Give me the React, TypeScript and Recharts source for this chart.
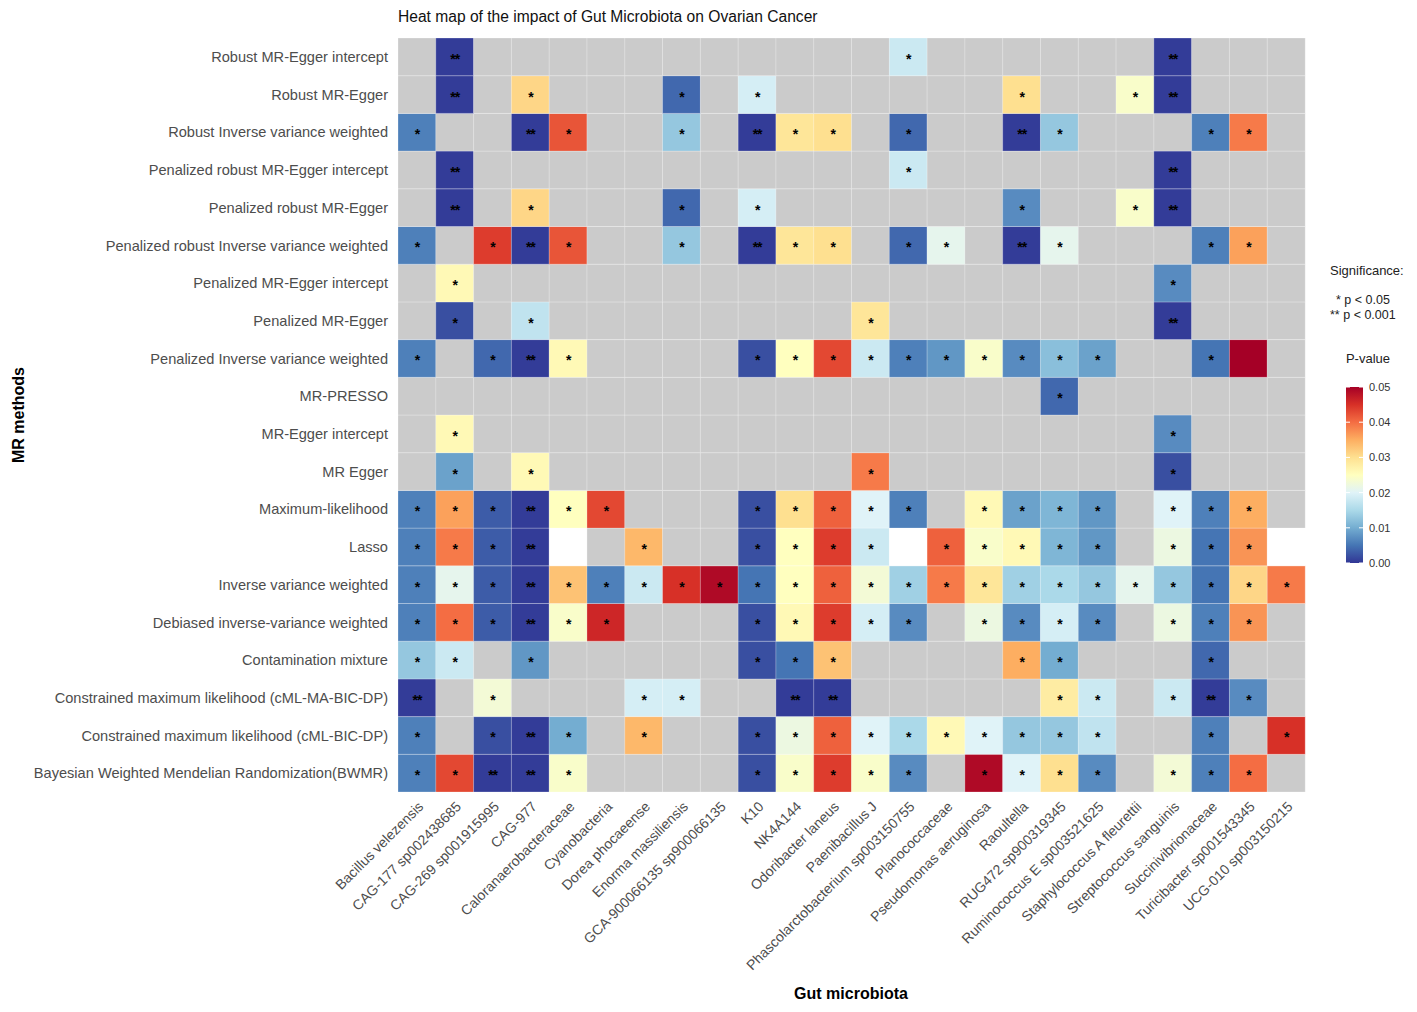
import { BarChart, Bar, XAxis, YAxis, Cell, LabelList } from "recharts"

// columns (x axis)
const microbiota = [
  "Bacillus velezensis",
  "CAG-177 sp002438685",
  "CAG-269 sp001915995",
  "CAG-977",
  "Caloranaerobacteraceae",
  "Cyanobacteria",
  "Dorea phocaeense",
  "Enorma massiliensis",
  "GCA-900066135 sp900066135",
  "K10",
  "NK4A144",
  "Odoribacter laneus",
  "Paenibacillus J",
  "Phascolarctobacterium sp003150755",
  "Planococcaceae",
  "Pseudomonas aeruginosa",
  "Raoultella",
  "RUG472 sp900319345",
  "Ruminococcus E sp003521625",
  "Staphylococcus A fleurettii",
  "Streptococcus sanguinis",
  "Succinivibrionaceae",
  "Turicibacter sp001543345",
  "UCG-010 sp003150215",
]

// rows, top to bottom
const methods = [
  "Robust MR-Egger intercept",
  "Robust MR-Egger",
  "Robust Inverse variance weighted",
  "Penalized robust MR-Egger intercept",
  "Penalized robust MR-Egger",
  "Penalized robust Inverse variance weighted",
  "Penalized MR-Egger intercept",
  "Penalized MR-Egger",
  "Penalized Inverse variance weighted",
  "MR-PRESSO",
  "MR-Egger intercept",
  "MR Egger",
  "Maximum-likelihood",
  "Lasso",
  "Inverse variance weighted",
  "Debiased inverse-variance weighted",
  "Contamination mixture",
  "Constrained maximum likelihood (cML-MA-BIC-DP)",
  "Constrained maximum likelihood (cML-BIC-DP)",
  "Bayesian Weighted Mendelian Randomization(BWMR)",
]

const _ = null // no result (grey tile)
const W = NaN // result without p-value (white tile)

// p-values, one row per method, one entry per microbiota
const pValues: (number | null)[][] = [
  [_, .0005, _, _, _, _, _, _, _, _, _, _, _, .018, _, _, _, _, _, _, .0005, _, _, _],
  [_, .0005, _, .031, _, _, _, .004, _, .019, _, _, _, _, _, _, .030, _, _, .024, .0005, _, _, _],
  [.006, _, _, .0005, .042, _, _, .013, _, .0005, .029, .030, _, .004, _, _, .0005, .013, _, _, _, .006, .039, _],
  [_, .0005, _, _, _, _, _, _, _, _, _, _, _, .018, _, _, _, _, _, _, .0005, _, _, _],
  [_, .0005, _, .031, _, _, _, .004, _, .019, _, _, _, _, _, _, .007, _, _, .024, .0005, _, _, _],
  [.006, _, .044, .0005, .042, _, _, .013, _, .0005, .029, .030, _, .004, .021, _, .0005, .021, _, _, _, .006, .036, _],
  [_, .026, _, _, _, _, _, _, _, _, _, _, _, _, _, _, _, _, _, _, .007, _, _, _],
  [_, .002, _, .017, _, _, _, _, _, _, _, _, .029, _, _, _, _, _, _, _, .0005, _, _, _],
  [.006, _, .004, .0005, .026, _, _, _, _, .002, .025, .043, .018, .006, .008, .024, .007, .012, .009, _, _, .005, .050, _],
  [_, _, _, _, _, _, _, _, _, _, _, _, _, _, _, _, _, .004, _, _, _, _, _, _],
  [_, .026, _, _, _, _, _, _, _, _, _, _, _, _, _, _, _, _, _, _, .007, _, _, _],
  [_, .009, _, .026, _, _, _, _, _, _, _, _, .039, _, _, _, _, _, _, _, .002, _, _, _],
  [.006, .036, .003, .0005, .025, .043, _, _, _, .002, .030, .041, .020, .006, _, .026, .009, .011, .008, _, .020, .006, .035, _],
  [.006, .039, .003, .0005, W, _, .034, _, _, .002, .025, .044, .018, W, .041, .024, .026, .011, .008, _, .022, .005, .037, W],
  [.006, .021, .003, .0005, .033, .006, .018, .045, .049, .005, .025, .041, .023, .014, .039, .029, .014, .015, .013, .021, .013, .005, .031, .039],
  [.006, .040, .003, .0005, .024, .046, _, _, _, .002, .026, .044, .019, .007, _, .022, .007, .019, .007, _, .022, .006, .037, _],
  [.013, .018, _, .008, _, _, _, _, _, .002, .005, .033, _, _, _, _, .035, .010, _, _, _, .004, _, _],
  [.0005, _, .023, _, _, _, .019, .019, _, _, .0005, .0005, _, _, _, _, _, .028, .018, _, .018, .0005, .007, _],
  [.006, _, .002, .0005, .010, _, .034, _, _, .002, .022, .041, .020, .015, .026, .020, .013, .013, .017, _, _, .006, _, .045],
  [.006, .043, .0005, .0005, .024, _, _, _, _, .002, .024, .044, .024, .007, _, .049, .020, .030, .007, _, .023, .006, .040, _],
]

const legendTicks = [0, 0.01, 0.02, 0.03, 0.04, 0.05]
const P_MAX = 0.05

// RdYlBu, reversed (low p = blue)
const palette = [
  "#313695", "#4575b4", "#74add1", "#abd9e9", "#e0f3f8", "#ffffbf",
  "#fee090", "#fdae61", "#f46d43", "#d73027", "#a50026",
]

const FONT = "'Liberation Sans', Arial, Helvetica, sans-serif"

function hex(c: string) {
  return [1, 3, 5].map((i) => parseInt(c.slice(i, i + 2), 16))
}

function pColor(p: number | null) {
  if (p == null) return "#cbcbcb"
  if (Number.isNaN(p)) return "#ffffff"
  const t = Math.min(Math.max(p / P_MAX, 0), 1) * (palette.length - 1)
  const i = Math.min(Math.floor(t), palette.length - 2)
  const f = t - i
  const a = hex(palette[i])
  const b = hex(palette[i + 1])
  const m = a.map((v, k) => Math.round(v + (b[k] - v) * f))
  return `rgb(${m[0]},${m[1]},${m[2]})`
}

const stars = (p: number) => (p < 0.001 ? "**" : p < 0.05 ? "*" : "")

// one record per microbiota: a unit tile per method + its p-value
const rows = microbiota.map((name, c) => {
  const r: Record<string, any> = { name }
  methods.forEach((_m, m) => {
    r[`t${m}`] = 1
    r[`p${m}`] = pValues[m][c]
  })
  return r
})

const renderStar = (props: any) => {
  const { x, y, width, height, value } = props
  if (value == null || Number.isNaN(value)) return null
  return (
    <text
      x={x + width / 2}
      y={y + height / 2 + 7}
      textAnchor="middle"
      fontSize={14}
      fontWeight="bold"
      fontFamily={FONT}
      fill="#000"
      letterSpacing={-1}
    >
      {stars(value)}
    </text>
  )
}

const XTick = ({ x, y, payload }: any) => (
  <text
    x={x}
    y={y}
    transform={`rotate(-45, ${x}, ${y})`}
    textAnchor="end"
    dy="0.75em"
    fontSize={14}
    fontFamily={FONT}
    fill="#4d4d4d"
  >
    {payload.value}
  </text>
)

const yTicks = methods.map((_m, i) => i + 0.5)

export default function App() {
  const stackOrder = methods.map((_m, i) => methods.length - 1 - i) // bottom row first

  return (
    <div style={{ position: "absolute", left: 0, top: 0, width: 1417, height: 1012, background: "#fff", fontFamily: FONT }}>
      <BarChart
        width={1417}
        height={1012}
        data={rows}
        margin={{ top: 38, right: 112, bottom: 0, left: 0 }}
        barCategoryGap={0}
        barGap={0}
      >
        <XAxis
          dataKey="name"
          type="category"
          interval={0}
          height={220}
          axisLine={false}
          tickLine={false}
          tick={<XTick />}
        />
        <YAxis
          type="number"
          domain={[0, methods.length]}
          ticks={yTicks}
          interval={0}
          width={398}
          axisLine={false}
          tickLine={false}
          tickMargin={4}
          tickFormatter={(v: number) => methods[methods.length - 1 - Math.floor(v)]}
          tick={{ fontSize: 14.6, fill: "#4d4d4d", fontFamily: FONT }}
        />
        {stackOrder.map((m) => (
          <Bar key={m} dataKey={`t${m}`} stackId="tiles" isAnimationActive={false}>
            {rows.map((_r, c) => (
              <Cell
                key={c}
                fill={pColor(pValues[m][c])}
                stroke="rgba(255,255,255,0.25)"
                strokeWidth={1}
              />
            ))}
            <LabelList dataKey={`p${m}`} content={renderStar} />
          </Bar>
        ))}
      </BarChart>

      <svg
        width={1417}
        height={1012}
        style={{ position: "absolute", left: 0, top: 0, pointerEvents: "none" }}
        fontFamily={FONT}
      >
        <defs>
          <linearGradient id="pGrad" x1="0" y1="1" x2="0" y2="0">
            {palette.map((c, i) => (
              <stop key={i} offset={`${(i / (palette.length - 1)) * 100}%`} stopColor={c} />
            ))}
          </linearGradient>
        </defs>
        <text x={398} y={22} fontSize={15.6} fill="#111">
          Heat map of the impact of Gut Microbiota on Ovarian Cancer
        </text>
        <text x={851} y={999} fontSize={16} fontWeight="bold" textAnchor="middle" fill="#000">
          Gut microbiota
        </text>
        <text
          x={24}
          y={415}
          fontSize={16}
          fontWeight="bold"
          textAnchor="middle"
          fill="#000"
          transform="rotate(-90, 24, 415)"
        >
          MR methods
        </text>

        <text x={1330} y={275} fontSize={13} fill="#222">Significance:</text>
        <text x={1336} y={304} fontSize={12.5} fill="#222">*   p &lt; 0.05</text>
        <text x={1330} y={319} fontSize={12.5} fill="#222">** p &lt; 0.001</text>
        <text x={1368} y={363} fontSize={13} fill="#222" textAnchor="middle">P-value</text>
        <rect x={1346} y={387} width={17} height={176} fill="url(#pGrad)" />
        {legendTicks.map((t) => {
          const ty = 563 - (t / P_MAX) * 176
          return (
            <g key={t}>
              <line x1={1346} x2={1350} y1={ty} y2={ty} stroke="#fff" strokeWidth={1} />
              <line x1={1359} x2={1363} y1={ty} y2={ty} stroke="#fff" strokeWidth={1} />
              <text x={1369} y={ty + 4} fontSize={11} fill="#333">
                {t.toFixed(2)}
              </text>
            </g>
          )
        })}
      </svg>
    </div>
  )
}
